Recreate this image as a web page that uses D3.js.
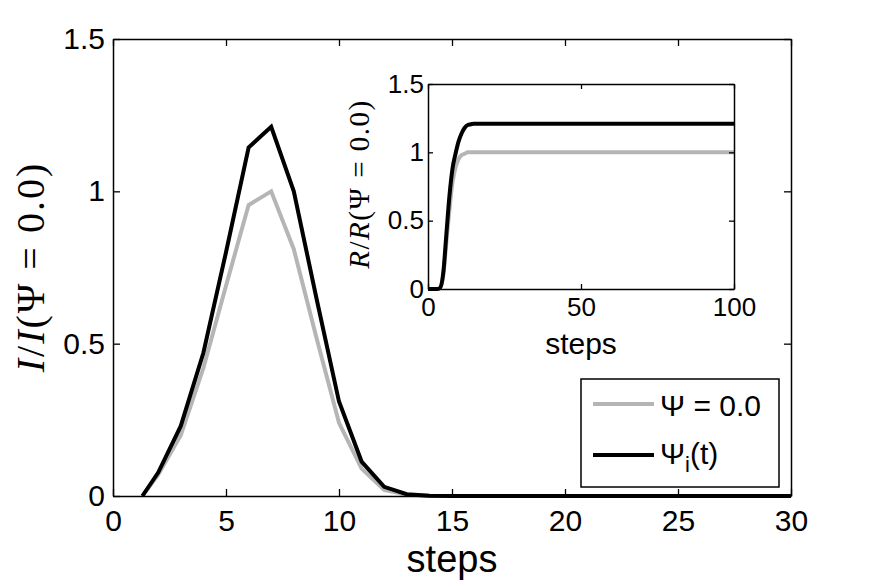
<!DOCTYPE html>
<meta charset="utf-8">
<script src="https://d3js.org/d3.v7.min.js"></script>
<style>
  body { margin: 0; background: #fff; }
  text { font-family: "Liberation Sans", Arial, sans-serif; fill: #000; }
</style>
<div id="chart"></div>
<script>
// ---- data ----
var steps = [1.3, 2, 3, 4, 5, 6, 7, 8, 9, 10, 11, 12, 13, 14, 15, 16, 17, 18, 19, 20, 21, 22, 23, 24, 25, 26, 27, 28, 29, 30];
var iGray = [0, 0.07, 0.20, 0.42, 0.69, 0.955, 1.0, 0.81, 0.52, 0.24, 0.09, 0.02, 0.004, 0.001, 0, 0, 0, 0, 0, 0, 0, 0, 0, 0, 0, 0, 0, 0, 0, 0];
var iBlack = [0, 0.077, 0.23, 0.47, 0.80, 1.144, 1.212, 1.0, 0.65, 0.31, 0.113, 0.03, 0.006, 0.001, 0, 0, 0, 0, 0, 0, 0, 0, 0, 0, 0, 0, 0, 0, 0, 0];

var insetSteps = [0, 1, 2, 3, 4, 5, 6, 7, 8, 9, 10, 11, 12, 13, 14, 15, 16, 18, 20, 30, 40, 50, 60, 70, 80, 90, 100];
var rGray = [0, 0, 0, 0, 0.01, 0.10, 0.34, 0.58, 0.78, 0.89, 0.95, 0.98, 0.99, 1.0, 1.0, 1.0, 1.0, 1.0, 1.0, 1.0, 1.0, 1.0, 1.0, 1.0, 1.0, 1.0, 1.0];
var rBlack = [0, 0, 0, 0, 0.01, 0.12, 0.40, 0.68, 0.88, 0.99, 1.08, 1.14, 1.18, 1.20, 1.205, 1.21, 1.21, 1.21, 1.21, 1.21, 1.21, 1.21, 1.21, 1.21, 1.21, 1.21, 1.21];

var xTicks = [0, 5, 10, 15, 20, 25, 30];
var yTicks = [0, 0.5, 1, 1.5];
var insetXTicks = [0, 50, 100];
var insetYTicks = [0, 0.5, 1, 1.5];

var grayColor = "#b5b5b5";
var fmt = d3.format("~g");

var svg = d3.select("#chart").append("svg")
    .attr("width", 873)
    .attr("height", 584);
svg.append("rect").attr("width", 873).attr("height", 584).attr("fill", "#fff");

// draws a boxed axes frame with inward ticks on all four sides
function frame(g, x, y, xt, yt, tickLen, fontSize, pad) {
  var w = x.range()[1] - x.range()[0];
  var h = y.range()[0] - y.range()[1];
  g.append("g")
    .attr("transform", "translate(0," + h + ")")
    .call(d3.axisBottom(x).tickValues(xt).tickFormat(fmt).tickSizeInner(-tickLen).tickSizeOuter(0).tickPadding(pad.x));
  g.append("g")
    .call(d3.axisTop(x).tickValues(xt).tickSizeInner(-tickLen).tickSizeOuter(0).tickFormat(""));
  g.append("g")
    .call(d3.axisLeft(y).tickValues(yt).tickFormat(fmt).tickSizeInner(-tickLen).tickSizeOuter(0).tickPadding(pad.y));
  g.append("g")
    .attr("transform", "translate(" + w + ",0)")
    .call(d3.axisRight(y).tickValues(yt).tickSizeInner(-tickLen).tickSizeOuter(0).tickFormat(""));
  g.selectAll(".tick line").attr("stroke", "#000").attr("stroke-width", 1.3);
  g.selectAll(".domain").attr("stroke", "#000").attr("stroke-width", 1.5);
  g.selectAll(".tick text")
    .style("font-family", "'Liberation Sans', Arial, sans-serif")
    .style("font-size", fontSize + "px")
    .attr("fill", "#000");
}

// ---- main axes ----
var m = {left: 113, top: 39, right: 791, bottom: 496};
var x = d3.scaleLinear().domain([0, 30]).range([0, m.right - m.left]);
var y = d3.scaleLinear().domain([0, 1.5]).range([m.bottom - m.top, 0]);

var main = svg.append("g").attr("transform", "translate(" + m.left + "," + m.top + ")");

var mainLine = function(vals) {
  return d3.line()
    .x(function(d, i) { return x(steps[i]); })
    .y(function(d) { return y(d); })(vals);
};

main.append("path").attr("d", mainLine(iGray))
  .attr("fill", "none").attr("stroke", grayColor).attr("stroke-width", 4).attr("stroke-linejoin", "miter");
main.append("path").attr("d", mainLine(iBlack))
  .attr("fill", "none").attr("stroke", "#000").attr("stroke-width", 4).attr("stroke-linejoin", "miter");

frame(main, x, y, xTicks, yTicks, 7, 30, {x: 14, y: 8});

main.append("text")
  .attr("x", (m.right - m.left) / 2)
  .attr("y", 572 - m.top)
  .attr("text-anchor", "middle")
  .style("font-size", "38px")
  .text("steps");

var ylab = main.append("text")
  .attr("transform", "translate(" + (44 - m.left) + "," + (267 - m.top) + ") rotate(-90)")
  .attr("text-anchor", "middle")
  .style("font-family", "'Liberation Serif', 'DejaVu Serif', serif")
  .style("font-size", "40px")
  .style("letter-spacing", "2px");
ylab.append("tspan").style("font-style", "italic").text("I");
ylab.append("tspan").text("/");
ylab.append("tspan").style("font-style", "italic").text("I");
ylab.append("tspan").text("(Ψ  =  0.0)");

// ---- legend ----
var leg = svg.append("g");
leg.append("rect")
  .attr("x", 581).attr("y", 379).attr("width", 198).attr("height", 108)
  .attr("fill", "#fff").attr("stroke", "#000").attr("stroke-width", 1.5);
var legendItems = [
  {color: grayColor, y: 404},
  {color: "#000", y: 455}
];
leg.selectAll("line.item").data(legendItems).enter().append("line")
  .attr("x1", 593).attr("x2", 654)
  .attr("y1", function(d) { return d.y; }).attr("y2", function(d) { return d.y; })
  .attr("stroke", function(d) { return d.color; }).attr("stroke-width", 4);
leg.append("text").attr("x", 660).attr("y", 416).style("font-size", "30px").text("Ψ = 0.0");
var t2 = leg.append("text").attr("x", 660).attr("y", 464).style("font-size", "30px");
t2.append("tspan").text("Ψ");
t2.append("tspan").attr("dy", 8).style("font-size", "22px").text("i");
t2.append("tspan").attr("dy", -8).text("(t)");

// ---- inset ----
var n = {left: 428, top: 84, right: 734, bottom: 289};
var xi = d3.scaleLinear().domain([0, 100]).range([0, n.right - n.left]);
var yi = d3.scaleLinear().domain([0, 1.5]).range([n.bottom - n.top, 0]);

var inset = svg.append("g").attr("transform", "translate(" + n.left + "," + n.top + ")");
inset.append("rect").attr("width", n.right - n.left).attr("height", n.bottom - n.top).attr("fill", "#fff");

var insetLine = function(vals) {
  return d3.line()
    .curve(d3.curveMonotoneX)
    .x(function(d, i) { return xi(insetSteps[i]); })
    .y(function(d) { return yi(d); })(vals);
};
inset.append("path").attr("d", insetLine(rGray))
  .attr("fill", "none").attr("stroke", grayColor).attr("stroke-width", 4);
inset.append("path").attr("d", insetLine(rBlack))
  .attr("fill", "none").attr("stroke", "#000").attr("stroke-width", 4);

frame(inset, xi, yi, insetXTicks, insetYTicks, 5, 26, {x: 9, y: 4});

inset.append("text")
  .attr("x", (n.right - n.left) / 2)
  .attr("y", 354 - n.top)
  .attr("text-anchor", "middle")
  .style("font-size", "30px")
  .text("steps");

var ylab2 = inset.append("text")
  .attr("transform", "translate(" + (369 - n.left) + "," + (184 - n.top) + ") rotate(-90)")
  .attr("text-anchor", "middle")
  .style("font-family", "'Liberation Serif', 'DejaVu Serif', serif")
  .style("font-size", "29px")
  .style("letter-spacing", "1.5px");
ylab2.append("tspan").style("font-style", "italic").text("R");
ylab2.append("tspan").text("/");
ylab2.append("tspan").style("font-style", "italic").text("R");
ylab2.append("tspan").text("(Ψ  =  0.0)");
</script>
